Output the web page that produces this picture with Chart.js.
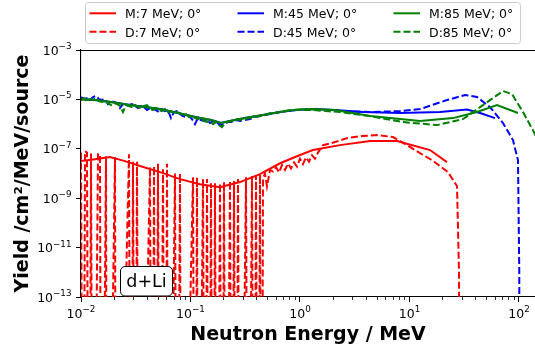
<!DOCTYPE html>
<html><head><meta charset="utf-8">
<script src="https://cdn.jsdelivr.net/npm/chart.js@4"></script>
<style>html,body{margin:0;padding:0;background:#fff;overflow:hidden}</style>
</head><body>
<canvas id="c" width="535" height="351"></canvas>
<script>
// ---------- data ----------
const seriesLabels = ['M:7 MeV; 0°','D:7 MeV; 0°','M:45 MeV; 0°','D:45 MeV; 0°','M:85 MeV; 0°','D:85 MeV; 0°'];
const xTickVals = [0.01, 0.1, 1, 10, 100];
const yTickVals = [1e-3, 1e-5, 1e-7, 1e-9, 1e-11, 1e-13];
const xMinorSubs = [2,3,4,5,6,7,8,9];
const annotationText = 'd+Li';
const xTitle = 'Neutron Energy / MeV';
const yTitle = 'Yield /cm\u00B2/MeV/source';

// M:7
const m7E = [0.0100,0.0134,0.0184,0.0252,0.0346,0.0527,0.0802,0.122,0.186,0.283,0.431,0.657,1.0,1.314,2.32,4.37,7.69,15.4,22.0];
const m7Y = [3.17e-8,3.8e-8,4.6e-8,3.17e-8,2.0e-8,1.14e-8,5.9e-9,3.7e-9,2.8e-9,4.5e-9,9.4e-9,2.6e-8,5.6e-8,8.9e-8,1.41e-7,2.05e-7,2.05e-7,8.9e-8,2.9e-8];

// D:7 (0 = empty bin)
const d7E = [0.0100,0.01043,0.01088,0.01134,0.01183,0.01234,0.01287,0.01430,0.01491,0.01539,0.01692,0.01728,0.02044,0.02087,0.02744,0.02862,0.02985,0.03112,0.03246,0.03385,0.04267,0.04450,0.04642,0.04840,0.05048,0.05266,0.05610,0.05849,0.06101,0.06297,0.07219,0.07529,0.08020,0.08277,0.1054,0.1099,0.1147,0.1171,0.1301,0.1357,0.1415,0.1475,0.1539,0.1605,0.1674,0.1746,0.1860,0.1940,0.2023,0.2110,0.2295,0.2393,0.2496,0.2603,0.2715,0.2831,0.3213,0.3351,0.3645,0.3802,0.3965,0.4135,0.4312,0.4451,0.4593,0.4790,0.4995,0.5322,0.5669,0.6039,0.6432,0.6852,0.7298,0.7774,0.8281,0.8821,0.9389,1.0,1.065,1.134,1.208,1.287,1.371,1.460,1.622,2.087,2.687,3.682,5.050,7.069,9.489,12.47,16.05,22.47,27.16,28.32,28.62];
const d7Y = [7.0e-8,0,8.0e-8,7.0e-8,0,6.5e-8,0,6.0e-8,6.0e-8,0,5.0e-8,0,4.5e-8,0,6.0e-8,0,3.0e-8,0,3.0e-8,0,1.8e-8,0,2.0e-8,0,2.5e-8,0,1.5e-8,0,2.5e-8,0,1.0e-8,0,1.0e-8,0,7e-9,0,7e-9,0,6e-9,0,6e-9,0,4e-9,0,4e-9,0,4e-9,0,4.5e-9,0,5e-9,0,5e-9,0,6e-9,0,7e-9,0,8e-9,0,8e-9,0,9e-9,0,6e-9,1.0e-8,3e-9,1.4e-8,1.2e-8,1.8e-8,1.1e-8,2.2e-8,1.4e-8,2.5e-8,1.6e-8,2.8e-8,1.9e-8,4.0e-8,2.4e-8,4.5e-8,3.0e-8,5.5e-8,4.0e-8,7.0e-8,1.4e-7,1.87e-7,2.7e-7,3.3e-7,3.6e-7,3.0e-7,1.41e-7,6.7e-8,3.5e-8,1.14e-8,3.1e-9,1e-12,0];

// M:45
const m45E = [0.0100,0.0134,0.0188,0.0280,0.0384,0.0527,0.0769,0.110,0.154,0.190,0.229,0.314,0.459,0.657,0.939,1.314,2.09,3.76,8.2,19.0,33.5,44.1,60.4];
const m45Y = [1.03e-5,9.4e-6,7.8e-6,5.9e-6,4.9e-6,4.06e-6,2.8e-6,1.93e-6,1.46e-6,1.1e-6,1.33e-6,1.75e-6,2.32e-6,3.07e-6,3.7e-6,4.06e-6,3.7e-6,3.07e-6,2.8e-6,3.07e-6,3.9e-6,2.8e-6,1.75e-6];

// M:85
const m85E = [0.0100,0.0134,0.0188,0.0280,0.0384,0.0527,0.0769,0.110,0.154,0.190,0.229,0.314,0.459,0.657,0.939,1.314,2.09,4.37,12.5,24.97,41.3,63.0,97.9];
const m85Y = [1.0e-5,9.4e-6,7.8e-6,5.9e-6,4.9e-6,4.06e-6,2.8e-6,1.93e-6,1.46e-6,1.1e-6,1.33e-6,1.75e-6,2.32e-6,3.07e-6,3.9e-6,4.06e-6,3.7e-6,2.11e-6,1.33e-6,1.75e-6,3.07e-6,5.9e-6,2.8e-6];

// D:45 and D:85, low-energy (noisy) part on a shared grid
const lowE = [0.0100,0.01065,0.01134,0.01208,0.01287,0.01371,0.01460,0.01555,0.01656,0.01764,0.01879,0.02001,0.02131,0.02270,0.02418,0.02575,0.02743,0.02921,0.03111,0.03314,0.03530,0.03760,0.04004,0.04265,0.04543,0.04838,0.05153,0.05489,0.05846,0.06227,0.06632,0.07064,0.07524,0.08014,0.08535,0.09091,0.0968,0.1031,0.1098,0.1170,0.1246,0.1327,0.1414,0.1506,0.1604,0.1708,0.1819,0.1938,0.2064,0.2198,0.2341,0.2494,0.2656,0.2829,0.3142,0.3491,0.3877,0.4307,0.4784,0.5314,0.5903,0.6557,0.7283,0.8090,0.8987,0.9982];
const d45LowY = [1.25e-5,1.03e-5,1.13e-5,9.4e-6,1.25e-5,1.37e-5,1.03e-5,9.4e-6,1.03e-5,6.5e-6,
 8.6e-6,7.8e-6,7.1e-6,4.46e-6,6.5e-6,5.4e-6,5.9e-6,6.5e-6,5.4e-6,4.46e-6,
 5.4e-6,4.9e-6,3.7e-6,4.46e-6,4.06e-6,3.7e-6,3.07e-6,4.06e-6,3.37e-6,3.7e-6,
 1.75e-6,3.07e-6,3.37e-6,2.55e-6,2.11e-6,1.93e-6,2.11e-6,1.6e-6,1.0e-6,1.75e-6,
 1.46e-6,1.33e-6,1.46e-6,1.1e-6,1.33e-6,1.21e-6,1.0e-6,9.1e-7,1.1e-6,1.21e-6,
 1.21e-6,1.33e-6,1.46e-6,1.33e-6,1.46e-6,1.6e-6,1.93e-6,2.11e-6,2.32e-6,2.55e-6,
 2.8e-6,3.07e-6,3.37e-6,3.37e-6,3.7e-6,3.7e-6];
const d85LowY = [9.4e-6,1.13e-5,8.6e-6,1.03e-5,9.4e-6,1.13e-5,8.6e-6,7.8e-6,8.6e-6,7.1e-6,
 5.9e-6,7.1e-6,6.5e-6,5.4e-6,3.07e-6,5.9e-6,5.4e-6,4.9e-6,5.9e-6,4.9e-6,
 4.46e-6,5.4e-6,5.9e-6,4.06e-6,3.7e-6,4.46e-6,3.7e-6,3.37e-6,4.06e-6,3.07e-6,
 3.37e-6,2.8e-6,3.07e-6,2.8e-6,2.32e-6,2.55e-6,1.93e-6,2.11e-6,1.75e-6,1.6e-6,
 1.75e-6,1.33e-6,1.21e-6,1.33e-6,1.0e-6,1.21e-6,9.1e-7,7.6e-7,1.1e-6,1.21e-6,
 1.33e-6,1.33e-6,1.6e-6,1.46e-6,1.6e-6,1.75e-6,1.93e-6,2.11e-6,2.32e-6,2.8e-6,
 2.8e-6,3.07e-6,3.37e-6,3.7e-6,3.7e-6,3.7e-6];
// high-energy parts
const d45HighE = [1.314,2.32,4.37,8.2,12.5,22.0,32.1,41.3,54.3,71.4,88.1,97.9,100.6,102];
const d45HighY = [4.06e-6,3.37e-6,3.07e-6,3.37e-6,4.06e-6,9.4e-6,1.5e-5,1.25e-5,4.9e-6,1.1e-6,2.25e-7,3.5e-8,1e-12,0];
const d85HighE = [1.314,2.32,4.37,8.72,17.8,30.8,46.9,71.4,86.3,108.8,134,156];
const d85HighY = [3.7e-6,3.07e-6,2.11e-6,1.21e-6,9.1e-7,1.6e-6,5.9e-6,2.18e-5,1.65e-5,3.07e-6,5.7e-7,1.41e-7];

// ---------- build ----------
const FLOOR = 1e-30; // empty bins (0) shown far below the log axis
function pts(E, Y){ return E.map((e,i)=>({x:e, y: Y[i] > 0 ? Y[i] : FLOOR})); }
const RED='#ff0000', BLUE='#0000ff', GREEN='#008000';
const DASH=[7,3];
function ds(i, data, color, dashed, order){
  return {label: seriesLabels[i], data, borderColor: color, backgroundColor: color,
    borderWidth: 2, borderDash: dashed ? DASH : [], pointRadius: 0, fill: false,
    tension: 0, order, clip: 0};
}
const datasets = [
  ds(0, pts(m7E, m7Y), RED, false, 5),
  ds(1, pts(d7E, d7Y), RED, true, 4),
  ds(2, pts(m45E, m45Y), BLUE, false, 3),
  ds(3, pts(lowE.concat(d45HighE), d45LowY.concat(d45HighY)), BLUE, true, 2),
  ds(4, pts(m85E, m85Y), GREEN, false, 1),
  ds(5, pts(lowE.concat(d85HighE), d85LowY.concat(d85HighY)), GREEN, true, 0)
];

const FONT = '"DejaVu Sans", sans-serif';
function drawPow(ctx, v, x, y, align){
  const e = Math.round(Math.log10(v));
  const base = '10', sup = e < 0 ? '\u2212' + (-e) : String(e);
  ctx.font = '12.5px ' + FONT; const wb = ctx.measureText(base).width;
  ctx.font = '8.75px ' + FONT; const ws = ctx.measureText(sup).width;
  const x0 = align === 'center' ? x - (wb + ws) / 2 : x - (wb + ws);
  ctx.textAlign = 'left'; ctx.textBaseline = 'alphabetic';
  ctx.font = '12.5px ' + FONT; ctx.fillText(base, x0, y);
  ctx.font = '8.75px ' + FONT; ctx.fillText(sup, x0 + wb, y - 5.5);
}
function rrect(ctx, x, y, w, h, r){
  ctx.beginPath();
  ctx.moveTo(x + r, y); ctx.lineTo(x + w - r, y); ctx.arcTo(x + w, y, x + w, y + r, r);
  ctx.lineTo(x + w, y + h - r); ctx.arcTo(x + w, y + h, x + w - r, y + h, r);
  ctx.lineTo(x + r, y + h); ctx.arcTo(x, y + h, x, y + h - r, r);
  ctx.lineTo(x, y + r); ctx.arcTo(x, y, x + r, y, r); ctx.closePath();
}

const decor = {
  id: 'decor',
  afterDraw(chart){
    const ctx = chart.ctx, a = chart.chartArea, xs = chart.scales.x, ys = chart.scales.y;
    ctx.save();
    ctx.fillStyle = '#000'; ctx.strokeStyle = '#000';
    // top spine
    ctx.lineWidth = 1.1;
    ctx.beginPath(); ctx.moveTo(a.left, a.top + 0.5); ctx.lineTo(a.right, a.top + 0.5); ctx.stroke();
    // x minor ticks
    ctx.lineWidth = 0.8;
    for (let d = -2; d <= 2; d++) for (const k of xMinorSubs) {
      const v = k * Math.pow(10, d);
      if (v < xs.min || v > xs.max) continue;
      const px = Math.round(xs.getPixelForValue(v)) + 0.5;
      ctx.beginPath(); ctx.moveTo(px, a.bottom); ctx.lineTo(px, a.bottom + 3); ctx.stroke();
    }
    // tick labels
    for (const v of xTickVals) drawPow(ctx, v, xs.getPixelForValue(v), a.bottom + 20.5, 'center');
    for (const v of yTickVals) drawPow(ctx, v, a.left - 9.5, ys.getPixelForValue(v) + 4.5, 'right');
    // axis titles
    ctx.font = 'bold 19px ' + FONT; ctx.textAlign = 'center'; ctx.textBaseline = 'alphabetic';
    ctx.fillText(xTitle, (a.left + a.right) / 2, 339.5);
    ctx.save(); ctx.translate(27.5, (a.top + a.bottom) / 2); ctx.rotate(-Math.PI / 2);
    ctx.fillText(yTitle, 0, 0); ctx.restore();
    // annotation box
    ctx.lineWidth = 1;
    rrect(ctx, a.left + 39.5, a.bottom - 30.5, 52, 29.5, 4.5);
    ctx.fillStyle = '#fff'; ctx.fill(); ctx.strokeStyle = '#000'; ctx.stroke();
    ctx.fillStyle = '#000'; ctx.font = '17.5px ' + FONT; ctx.textAlign = 'center';
    ctx.fillText(annotationText, a.left + 65.5, a.bottom - 10);
    // legend
    rrect(ctx, 85.5, 2.5, 435, 41, 3);
    ctx.fillStyle = 'rgba(255,255,255,0.8)'; ctx.fill();
    ctx.strokeStyle = '#cccccc'; ctx.lineWidth = 1; ctx.stroke();
    const colX = [89.5, 237.5, 393.5], rowY = [18.3, 36.8];
    chart.data.datasets.forEach((d, i) => {
      const c = Math.floor(i / 2), r = i % 2;
      const lx = colX[c], ly = rowY[r] - 5;
      ctx.strokeStyle = d.borderColor; ctx.lineWidth = 2; ctx.setLineDash(d.borderDash || []);
      ctx.beginPath(); ctx.moveTo(lx, ly); ctx.lineTo(lx + 26.5, ly); ctx.stroke();
      ctx.setLineDash([]);
      ctx.fillStyle = '#000'; ctx.font = '12.5px ' + FONT; ctx.textAlign = 'left';
      ctx.fillText(d.label, lx + 35.5, rowY[r]);
    });
    ctx.restore();
  }
};

new Chart(document.getElementById('c'), {
  type: 'line',
  data: { datasets },
  plugins: [decor],
  options: {
    responsive: false, animation: false, events: [],
    layout: { padding: { top: 50, left: 0, right: 0, bottom: 0 } },
    plugins: { legend: { display: false }, tooltip: { enabled: false } },
    scales: {
      x: {
        type: 'logarithmic', min: 0.01, max: 140, position: 'bottom',
        afterFit(s){ s.height = 54; },
        afterBuildTicks(s){ s.ticks = xTickVals.map(v => ({ value: v })); },
        ticks: { display: false },
        grid: { display: true, drawOnChartArea: false, drawTicks: true, tickLength: 5, tickWidth: 1, tickColor: '#000' },
        border: { display: true, color: '#000', width: 1.1 }
      },
      y: {
        type: 'logarithmic', min: 1e-13, max: 1e-3, position: 'left',
        afterFit(s){ s.width = 81; },
        afterBuildTicks(s){ s.ticks = yTickVals.map(v => ({ value: v })); },
        ticks: { display: false },
        grid: { display: true, drawOnChartArea: false, drawTicks: true, tickLength: 5, tickWidth: 1, tickColor: '#000' },
        border: { display: true, color: '#000', width: 1.1 }
      }
    }
  }
});
</script>
</body></html>
